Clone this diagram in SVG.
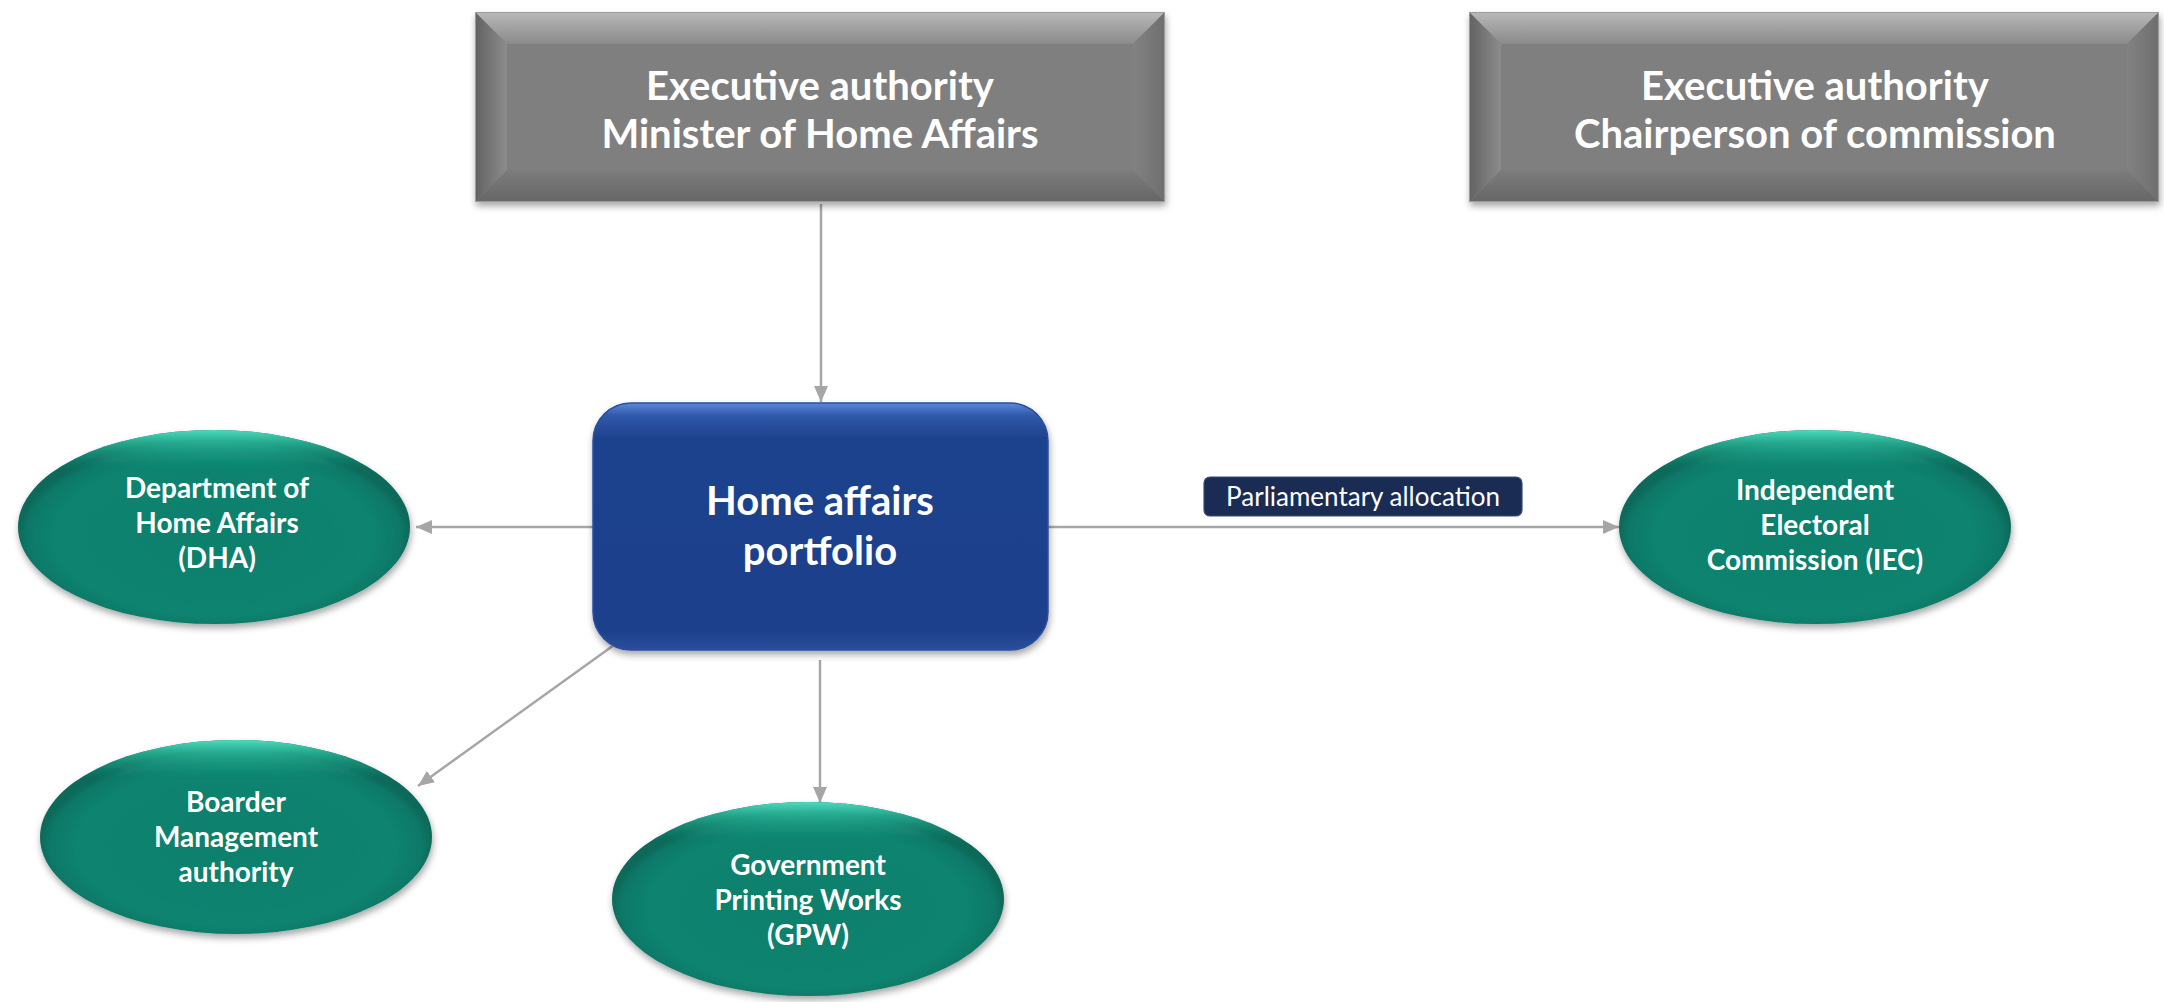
<svg xmlns="http://www.w3.org/2000/svg" width="2164" height="1002" viewBox="0 0 2164 1002">
  <defs>
    <style>
      .lbl { font-family: Lato, "Open Sans", "Liberation Sans", sans-serif; fill: #ffffff; text-anchor: middle; }
      .hdr { font-size: 40px; font-weight: 700; }
      .core { font-size: 40px; font-weight: 700; }
      .ent { font-size: 28px; font-weight: 700; }
      .tag { font-size: 26px; font-weight: 400; }
      .conn { stroke: #a6a6a6; stroke-width: 2.5; fill: none; marker-end: url(#arrow); }
    </style>

    <marker id="arrow" viewBox="0 0 16 14" refX="16" refY="7" markerWidth="16" markerHeight="14" markerUnits="userSpaceOnUse" orient="auto">
      <path d="M0,0 L16,7 L0,14 z" fill="#a6a6a6"/>
    </marker>

    <!-- bevelled grey panel pieces -->
    <linearGradient id="bvTop" x1="0" y1="0" x2="0" y2="1">
      <stop offset="0" stop-color="#b9b9b9"/>
      <stop offset="1" stop-color="#8a8a8a"/>
    </linearGradient>
    <linearGradient id="bvLeft" x1="0" y1="0" x2="1" y2="0">
      <stop offset="0" stop-color="#626262"/>
      <stop offset="1" stop-color="#8c8c8c"/>
    </linearGradient>
    <linearGradient id="bvRight" x1="0" y1="0" x2="1" y2="0">
      <stop offset="0" stop-color="#828282"/>
      <stop offset="1" stop-color="#6e6e6e"/>
    </linearGradient>
    <linearGradient id="bvBottom" x1="0" y1="0" x2="0" y2="1">
      <stop offset="0" stop-color="#7c7c7c"/>
      <stop offset="1" stop-color="#666666"/>
    </linearGradient>

    <linearGradient id="blueFill" x1="0" y1="0" x2="0" y2="1">
      <stop offset="0" stop-color="#5d89db"/>
      <stop offset="0.05" stop-color="#3058aa"/>
      <stop offset="0.14" stop-color="#1f438e"/>
      <stop offset="0.92" stop-color="#1e408b"/>
      <stop offset="1" stop-color="#2a4e9c"/>
    </linearGradient>

    <radialGradient id="tealBody" cx="0.5" cy="0.55" r="0.5">
      <stop offset="0" stop-color="#0b806c"/>
      <stop offset="0.82" stop-color="#0c836f"/>
      <stop offset="0.95" stop-color="#0f7868"/>
      <stop offset="1" stop-color="#0a6a5a"/>
    </radialGradient>
    <linearGradient id="tealShine" x1="0" y1="0" x2="0" y2="1">
      <stop offset="0" stop-color="#4ddcbf" stop-opacity="1"/>
      <stop offset="0.07" stop-color="#2fbf9f" stop-opacity="0.7"/>
      <stop offset="0.2" stop-color="#1a9c83" stop-opacity="0"/>
      <stop offset="1" stop-color="#1a9c83" stop-opacity="0"/>
    </linearGradient>

    <filter id="shadow" x="-10%" y="-10%" width="120%" height="125%">
      <feDropShadow dx="1" dy="4" stdDeviation="3.5" flood-color="#000000" flood-opacity="0.35"/>
    </filter>

    <g id="panel">
      <rect x="0" y="0" width="690" height="190" fill="#7f7f7f"/>
      <polygon points="0,0 690,0 658,32 32,32" fill="url(#bvTop)"/>
      <polygon points="0,0 32,32 32,158 0,190" fill="url(#bvLeft)"/>
      <polygon points="690,0 690,190 658,158 658,32" fill="url(#bvRight)"/>
      <polygon points="0,190 32,158 658,158 690,190" fill="url(#bvBottom)"/>
      <rect x="0.5" y="0.5" width="689" height="189" fill="none" stroke="#9c9c9c" stroke-width="1"/>
    </g>

    <g id="teal">
      <ellipse cx="0" cy="0" rx="196" ry="97" fill="url(#tealBody)"/>
      <ellipse cx="0" cy="0" rx="196" ry="97" fill="url(#tealShine)"/>
    </g>
  </defs>

  <rect width="2164" height="1002" fill="#ffffff"/>

  <!-- connectors -->
  <g id="connectors">
    <line class="conn" x1="821" y1="204" x2="821" y2="402"/>
    <line class="conn" x1="593" y1="527" x2="416" y2="527"/>
    <line class="conn" x1="1048" y1="527" x2="1619" y2="527"/>
    <line class="conn" x1="621" y1="640" x2="418" y2="786"/>
    <line class="conn" x1="820" y1="660" x2="820" y2="803"/>
  </g>

  <g id="minister">
    <use href="#panel" transform="translate(475,12)" filter="url(#shadow)"/>
    <text class="lbl hdr" x="820" y="100">Executive authority</text>
    <text class="lbl hdr" x="820" y="148">Minister of Home Affairs</text>
  </g>

  <g id="chairperson">
    <use href="#panel" transform="translate(1469,12)" filter="url(#shadow)"/>
    <text class="lbl hdr" x="1815" y="100">Executive authority</text>
    <text class="lbl hdr" x="1815" y="148">Chairperson of commission</text>
  </g>

  <g id="portfolio">
    <rect x="593" y="403" width="455" height="247" rx="38" ry="38" fill="url(#blueFill)" stroke="#2c4f9e" stroke-width="1.5" filter="url(#shadow)"/>
    <text class="lbl core" x="820" y="515">Home affairs</text>
    <text class="lbl core" x="820" y="565">portfolio</text>
  </g>

  <g id="dha">
    <use href="#teal" transform="translate(214,527)" filter="url(#shadow)"/>
    <text class="lbl ent" x="217" y="498">Department of</text>
    <text class="lbl ent" x="217" y="533">Home Affairs</text>
    <text class="lbl ent" x="217" y="568">(DHA)</text>
  </g>

  <g id="iec">
    <use href="#teal" transform="translate(1815,527)" filter="url(#shadow)"/>
    <text class="lbl ent" x="1815" y="500">Independent</text>
    <text class="lbl ent" x="1815" y="535">Electoral</text>
    <text class="lbl ent" x="1815" y="570">Commission (IEC)</text>
  </g>

  <g id="allocation-label">
    <rect x="1204" y="477" width="318" height="39" rx="6" ry="6" fill="#1a2b54" stroke="#3a4b74" stroke-width="1.2"/>
    <text class="lbl tag" x="1363" y="506">Parliamentary allocation</text>
  </g>

  <g id="bma">
    <use href="#teal" transform="translate(236,837)" filter="url(#shadow)"/>
    <text class="lbl ent" x="236" y="812">Boarder</text>
    <text class="lbl ent" x="236" y="847">Management</text>
    <text class="lbl ent" x="236" y="882">authority</text>
  </g>

  <g id="gpw">
    <use href="#teal" transform="translate(808,899)" filter="url(#shadow)"/>
    <text class="lbl ent" x="808" y="875">Government</text>
    <text class="lbl ent" x="808" y="910">Printing Works</text>
    <text class="lbl ent" x="808" y="945">(GPW)</text>
  </g>
</svg>
